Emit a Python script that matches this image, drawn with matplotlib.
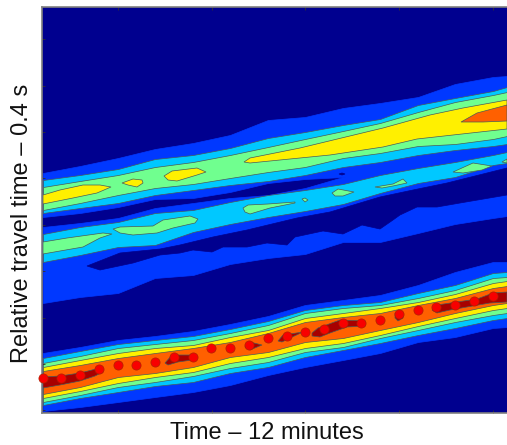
'''
Contour panel of travel time against time, with picked arrivals on top.
Values were read off the picture, both axes are in picture units because
the original shows no tick labels.
'''
import matplotlib
matplotlib.use('Agg')
import matplotlib.pyplot as plt

#columns where the contour edges were read
stations = [43, 80, 118, 155, 193, 230, 268, 305, 343, 380, 418, 455, 493, 507]

#upper band, edges from the outside in
upper_blue_top = [173, 166, 158, 149, 143, 135, 120, 117, 108, 103, 97, 84, 77, 76]
upper_blue_low = [217, 213, 207, 199, 198, 192, 183, 179, 177, 175, 172, 168, 165, 162]
upper_cyan_top = [180, 175, 169, 159, 155, 148, 138, 132, 125, 119, 105, 98, 91, 87]
upper_cyan_low = [213, 208, 203, 195, 190, 185, 181, 175, 167, 162, 155, 150, 146, 144]
upper_green_top = [187, 181, 175, 167, 162, 155, 147, 139, 131, 123, 112, 102, 95, 92]
upper_green_low = [210, 203, 195, 188, 184, 178, 172, 167, 158, 153, 146, 144, 139, 136]

#middle band
middle_blue_top = [227, 223, 218, 208, 203, 198, 195, 188, 177, 170, 163, 157, 150, 147]
middle_blue_low = [303, 297, 293, 278, 275, 264, 258, 254, 242, 242, 233, 224, 218, 216]
middle_cyan_top = [234, 227, 222, 213, 210, 202, 195, 190, 184, 175, 168, 162, 155, 152]
middle_cyan_low = [262, 255, 247, 245, 232, 224, 217, 211, 204, 193, 183, 177, 165, 163]

#lower band
lower_blue_top = [353, 347, 340, 336, 331, 324, 316, 305, 300, 295, 285, 272, 262, 262]
lower_blue_low = [411, 407, 402, 397, 392, 385, 375, 367, 360, 353, 342, 337, 328, 327]
lower_cyan_top = [358, 351, 344, 340, 336, 329, 321, 310, 305, 302, 293, 285, 273, 272]
lower_cyan_low = [405, 398, 392, 386, 382, 373, 367, 357, 350, 343, 335, 328, 320, 318]
lower_green_top = [363, 356, 348, 344, 340, 333, 325, 313, 308, 305, 298, 290, 278, 277]
lower_green_low = [402, 395, 387, 382, 376, 368, 362, 352, 347, 338, 330, 322, 315, 313]
lower_yellow_top = [367, 360, 353, 348, 345, 337, 330, 318, 313, 308, 302, 294, 283, 281]
lower_yellow_low = [398, 391, 383, 377, 372, 363, 357, 348, 343, 335, 326, 318, 310, 308]
lower_orange_top = [371, 365, 358, 353, 348, 342, 333, 322, 317, 313, 305, 298, 288, 286]
lower_orange_low = [394, 387, 377, 373, 367, 357, 352, 342, 338, 330, 322, 313, 305, 303]

#dark strip between the middle band and the blue patch under it
strip_outline = [(87, 266), (120, 253), (160, 249), (180, 245), (213, 237), (247, 230),
    (297, 218), (330, 212), (380, 197), (413, 190), (447, 183), (507, 168),
    (507, 195), (460, 203), (437, 207), (417, 207), (400, 215), (393, 220),
    (380, 229), (362, 225), (343, 234), (323, 231), (295, 237), (287, 245),
    (267, 243), (247, 247), (223, 247), (212, 252), (193, 250), (180, 253),
    (160, 255), (133, 263), (100, 270)]
dark_speck = [(339, 174), (342, 173), (345, 174), (342, 175)]

#closed contours
green_islands = [
    [(43, 242), (67, 238), (103, 233), (112, 234), (100, 238), (83, 247), (60, 251), (43, 254)],
    [(113, 229), (120, 227), (153, 226), (163, 220), (190, 216), (198, 219), (195, 223),
     (173, 228), (157, 233), (133, 235), (120, 233)],
    [(243, 208), (248, 205), (268, 204), (295, 202), (295, 203), (270, 208), (250, 214), (245, 212)],
    [(302, 199), (305, 198), (308, 200), (305, 202)],
    [(332, 193), (338, 189), (354, 192), (343, 196), (335, 196)],
    [(375, 187), (393, 184), (403, 179), (407, 183), (393, 186), (382, 188)],
    [(453, 172), (473, 163), (492, 166), (482, 170), (463, 173)],
    [(502, 162), (507, 159), (507, 163)],
]
yellow_islands = [
    [(43, 195), (60, 190), (83, 185), (100, 185), (111, 187), (97, 193), (73, 198), (43, 204)],
    [(122, 183), (133, 179), (142, 180), (143, 183), (137, 187), (128, 185)],
    [(164, 176), (172, 171), (197, 168), (206, 172), (197, 175), (177, 181), (168, 180)],
    [(244, 162), (250, 158), (300, 148), (383, 128), (430, 115), (463, 108), (507, 100),
     (507, 129), (417, 139), (383, 147), (330, 155), (250, 163)],
]
orange_islands = [[(461, 122), (477, 113), (507, 105), (507, 121), (483, 122)]]
red_islands = [
    [(43, 377), (60, 376), (80, 373), (100, 368), (103, 372), (95, 376), (80, 381), (60, 385), (43, 388)],
    [(165, 363), (172, 355), (193, 355), (197, 357), (192, 360), (178, 362), (168, 365)],
    [(245, 347), (248, 343), (250, 342), (262, 345), (250, 350)],
    [(278, 341), (283, 335), (303, 332), (290, 338), (282, 342)],
    [(312, 333), (318, 328), (340, 320), (365, 321), (365, 326), (347, 327), (330, 333), (320, 337), (312, 336)],
    [(395, 313), (403, 313), (403, 318), (398, 321), (395, 318)],
    [(432, 310), (437, 305), (457, 302), (477, 299), (493, 293), (507, 292), (507, 302),
     (490, 303), (467, 307), (450, 310), (437, 313)],
]

#picked arrivals
pick_x = [43, 61, 80, 99, 118, 136, 155, 174, 193, 211, 230, 249, 268,
    287, 305, 324, 343, 361, 380, 399, 418, 436, 455, 474, 493]
pick_y = [378, 378, 375, 369, 365, 365, 362, 357, 357, 348, 348, 345, 338,
    336, 332, 329, 323, 323, 320, 314, 310, 307, 305, 301, 296]

x_ticks = [118, 212, 305, 399, 493]
y_ticks = [39, 85.5, 132, 178, 224.5, 271, 317.5, 364, 410]

DARK = '#00008f'
BLUE = '#0038ff'
CYAN = '#00c8ff'
GREEN = '#70ff8f'
YELLOW = '#fff000'
ORANGE = '#ff6000'
RED = '#a80000'
LINE = '#4a5a58'

plt.rcParams['font.family'] = ['Liberation Sans', 'DejaVu Sans']

fig = plt.figure(figsize=(5.07, 4.45), dpi=100)
ax = fig.add_axes([42 / 507, 32 / 445, 465 / 507, 406 / 445])
ax.set_facecolor(DARK)


def band(top, low, color, line=LINE):
    ax.fill_between(stations, top, low, facecolor=color, edgecolor=line, linewidth=0.5)


def island(outline, color, line=LINE):
    xs = [p[0] for p in outline]
    ys = [p[1] for p in outline]
    ax.fill(xs, ys, facecolor=color, edgecolor=line, linewidth=0.5)


#painted from the lowest level up, like filled contours
#the edges of the blue level hardly show in the original
band(upper_blue_top, upper_blue_low, BLUE, BLUE)
band(middle_blue_top, middle_blue_low, BLUE, BLUE)
island(strip_outline, DARK, DARK)
island(dark_speck, DARK, DARK)
band(lower_blue_top, lower_blue_low, BLUE, BLUE)
band(upper_cyan_top, upper_cyan_low, CYAN)
band(middle_cyan_top, middle_cyan_low, CYAN)
band(lower_cyan_top, lower_cyan_low, CYAN)
band(upper_green_top, upper_green_low, GREEN)
for outline in green_islands:
    island(outline, GREEN)
band(lower_green_top, lower_green_low, GREEN)
for outline in yellow_islands:
    island(outline, YELLOW)
band(lower_yellow_top, lower_yellow_low, YELLOW)
for outline in orange_islands:
    island(outline, ORANGE)
band(lower_orange_top, lower_orange_low, ORANGE)
for outline in red_islands:
    island(outline, RED)

ax.plot(pick_x, pick_y, linestyle='none', marker='o', markersize=6.6,
    markerfacecolor='#f80000', markeredgecolor='#b02000', markeredgewidth=0.5,
    clip_on=False, zorder=5)

ax.set_xlim(42, 507)
ax.set_ylim(413, 7)
ax.set_xticks(x_ticks)
ax.set_yticks(y_ticks)
ax.tick_params(direction='in', length=2.5, width=0.6, color='#303030',
    labelbottom=False, labelleft=False, top=True)
for side in ['left', 'bottom', 'top']:
    ax.spines[side].set_color('#808080')
    ax.spines[side].set_linewidth(1.2)
ax.spines['right'].set_visible(False)

fig.text(267 / 507, 1 - 433 / 445, 'Time \u2013 12 minutes', fontsize=17,
    ha='center', va='center', color='#111111')
fig.text(22 / 507, 1 - 223 / 445, 'Relative travel time \u2013 0.4 s', fontsize=17,
    rotation=90, ha='center', va='center', color='#111111')

fig.savefig('out.png', dpi=100)
